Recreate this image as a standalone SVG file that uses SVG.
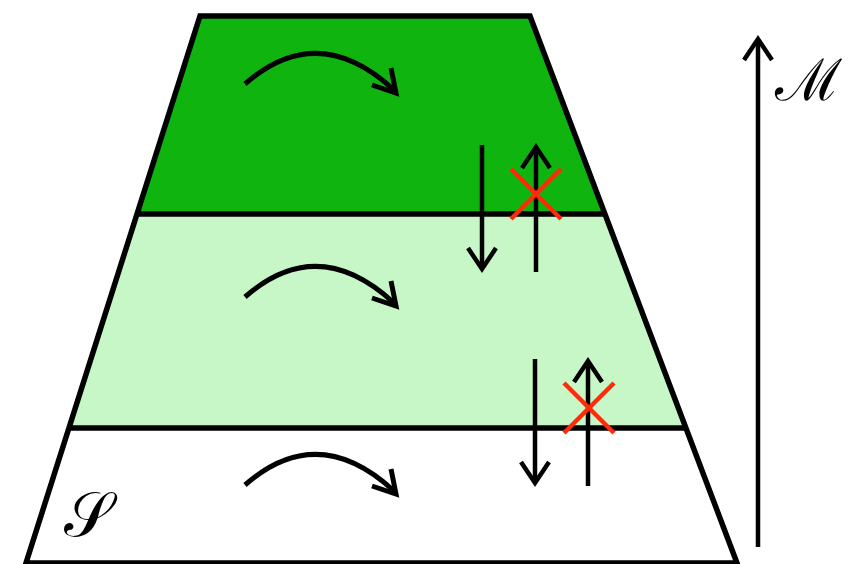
<svg xmlns="http://www.w3.org/2000/svg" width="848" height="564" viewBox="0 0 848 564">
<style>
.edge{stroke:#000;stroke-width:5.5;fill:none;stroke-linejoin:miter}
.arr{stroke:#000;stroke-width:5;fill:none;stroke-linecap:butt;stroke-linejoin:miter}
.vx{stroke:#000;stroke-width:4.5;fill:none}
.cross{stroke:#ff2a0a;stroke-width:4.5;fill:none}
.lbl{font-family:"DejaVu Serif","Noto Sans",serif;fill:#000}
</style>
<rect width="848" height="564" fill="#fff"/>
<g id="band-top"><polygon points="200,16 530,16 605,214 137,214" fill="#0fb40f"/></g>
<g id="band-middle"><polygon points="137,214 605,214 686,428 69,428" fill="#c7f7c7"/></g>
<g id="band-bottom"><polygon points="69,428 686,428 737,563 26,563" fill="#fff"/></g>
<g id="outline">
<polygon class="edge" points="200,16 530,16 737,563 26,563"/>
<line class="edge" x1="137" y1="214" x2="605" y2="214"/>
<line class="edge" x1="69" y1="428" x2="686" y2="428"/>
</g>
<g id="connectors">
<g id="flow-top"><path class="arr" d="M245,84 Q318,20 394,90"/><polyline class="arr" points="372,85 396,93 391,68"/></g>
<g id="flow-middle" transform="translate(0,213)"><path class="arr" d="M245,84 Q318,20 394,90"/><polyline class="arr" points="372,85 396,93 391,68"/></g>
<g id="flow-bottom" transform="translate(0,401)"><path class="arr" d="M245,84 Q318,20 394,90"/><polyline class="arr" points="372,85 396,93 391,68"/></g>
<g id="down-1"><line class="vx" x1="482" y1="145" x2="482" y2="268"/><polyline class="vx" points="468,248 482,269 496,248"/></g>
<g id="up-1"><line class="vx" x1="536" y1="148" x2="536" y2="272"/><polyline class="vx" points="522,168 536,147 550,168"/></g>
<g id="down-2"><line class="vx" x1="535" y1="359" x2="535" y2="482"/><polyline class="vx" points="521,462 535,483 549,462"/></g>
<g id="up-2"><line class="vx" x1="588" y1="362" x2="588" y2="486"/><polyline class="vx" points="574,382 588,361 602,382"/></g>
<g id="axis"><line class="vx" x1="758" y1="40" x2="758" y2="547"/><polyline class="vx" points="744,60 758,39 772,60"/></g>
</g>
<g id="cross-1"><line class="cross" x1="511" y1="169" x2="561" y2="219"/><line class="cross" x1="561" y1="169" x2="511" y2="219"/></g>
<g id="cross-2"><line class="cross" x1="564" y1="383" x2="614" y2="433"/><line class="cross" x1="614" y1="383" x2="564" y2="433"/></g>
<g id="label-M"><text class="lbl" x="775" y="100" font-size="58">ℳ</text></g>
<g id="label-S"><text class="lbl" x="64" y="536" font-size="62">𝒮</text></g>
</svg>
